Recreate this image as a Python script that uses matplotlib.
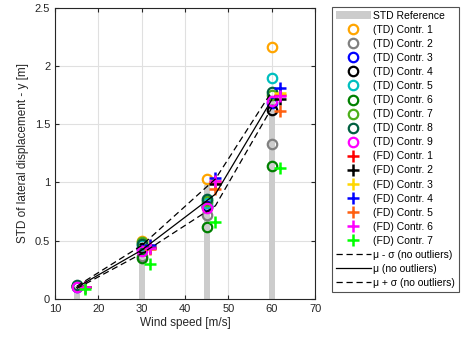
import numpy as np
from matplotlib import pyplot as plt
from matplotlib.patches import Patch
from matplotlib.lines import Line2D

plt.rcParams['font.family'] = ['Liberation Sans', 'DejaVu Sans']

# Wind speeds (TD at the speed, FD shifted by 2 m/s)
wind = np.array([15, 30, 45, 60])
wind_fd = wind + 2

# STD reference (gray bars)
std_ref = [0.11, 0.46, 0.98, 1.70]

# Time domain controllers, one row per controller
td_vals = [
    [0.11, 0.50, 1.03, 2.16],
    [0.11, 0.37, 0.72, 1.33],
    [0.10, 0.43, 0.80, 1.68],
    [0.11, 0.44, 0.79, 1.62],
    [0.11, 0.46, 0.82, 1.90],
    [0.11, 0.35, 0.62, 1.14],
    [0.11, 0.49, 0.84, 1.75],
    [0.12, 0.47, 0.855, 1.78],
    [0.10, 0.41, 0.78, 1.70],
]
td_colors = ['#FFA500', '#808080', '#0000FF', '#000000', '#00BFBF',
             '#008000', '#4DAF1A', '#006040', '#FF00FF']

# Frequency domain controllers
fd_vals = [
    [0.10, 0.45, 1.00, 1.75],
    [0.10, 0.44, 0.99, 1.72],
    [0.10, 0.46, 1.01, 1.77],
    [0.10, 0.46, 1.04, 1.81],
    [0.10, 0.43, 0.94, 1.61],
    [0.10, 0.44, 1.01, 1.74],
    [0.09, 0.30, 0.66, 1.12],
]
fd_colors = ['#FF0000', '#000000', '#FFD700', '#0000FF', '#FF6010',
             '#FF00FF', '#00FF00']

# mean and mean +/- std (no outliers)
x_mu = [15, 30, 47, 60]
mu_lo = [0.09, 0.39, 0.80, 1.64]
mu = [0.10, 0.42, 0.90, 1.71]
mu_hi = [0.11, 0.46, 1.03, 1.78]

fig = plt.figure(figsize=(4.71, 3.40), dpi=100)
ax = fig.add_axes([0.117, 0.1206, 0.552, 0.857])

ax.bar(wind, std_ref, width=1.4, color='#CCCCCC', zorder=1)

handles = [Patch(facecolor='#CCCCCC', label='STD Reference')]
for i, (v, c) in enumerate(zip(td_vals, td_colors)):
    ax.plot(wind, v, 'o', ls='none', ms=6.8, mfc='none', mec=c, mew=1.6, zorder=3)
    handles.append(Line2D([], [], marker='o', ls='none', ms=6.8, mfc='none',
                          mec=c, mew=1.6, label=f'(TD) Contr. {i+1}'))
for i, (v, c) in enumerate(zip(fd_vals, fd_colors)):
    ax.plot(wind_fd, v, '+', ls='none', ms=8, mec=c, mew=1.8, zorder=3)
    handles.append(Line2D([], [], marker='+', ls='none', ms=8, mec=c, mew=1.8,
                          label=f'(FD) Contr. {i+1}'))

ax.plot(x_mu, mu_lo, 'k--', lw=0.9, dashes=(5, 3), zorder=4)
ax.plot(x_mu, mu, 'k-', lw=0.9, zorder=4)
ax.plot(x_mu, mu_hi, 'k--', lw=0.9, dashes=(5, 3), zorder=4)
handles.append(Line2D([], [], color='k', ls='--', lw=0.9, dashes=(5, 3),
                      label='μ - σ (no outliers)'))
handles.append(Line2D([], [], color='k', ls='-', lw=0.9,
                      label='μ (no outliers)'))
handles.append(Line2D([], [], color='k', ls='--', lw=0.9, dashes=(5, 3),
                      label='μ + σ (no outliers)'))

ax.set_xlim(10, 70)
ax.set_ylim(0, 2.5)
ax.set_xticks(np.arange(10, 71, 10))
ax.set_yticks([0, 0.5, 1, 1.5, 2, 2.5])
ax.set_yticklabels(['0', '0.5', '1', '1.5', '2', '2.5'])
ax.grid(True, color='#E0E0E0', lw=0.8, zorder=0)
ax.set_axisbelow(True)
ax.tick_params(direction='in', labelsize=8, length=3, top=True, right=True,
               colors='#262626')
for s in ax.spines.values():
    s.set_linewidth(0.8)
    s.set_color('#262626')
ax.set_xlabel('Wind speed [m/s]', fontsize=8.5, color='#262626', labelpad=2)
ax.set_ylabel('STD of lateral displacement - y [m]', fontsize=8.5,
              color='#262626', labelpad=4)

leg = fig.legend(handles=handles, loc='upper left', bbox_to_anchor=(0.705, 0.979),
                 fontsize=7.5, frameon=True, fancybox=False, edgecolor='#262626',
                 handlelength=3.4, handletextpad=0.2, labelspacing=0.39,
                 borderpad=0.35, borderaxespad=0)
leg.get_frame().set_linewidth(0.8)

plt.savefig('out.png', dpi=100)
